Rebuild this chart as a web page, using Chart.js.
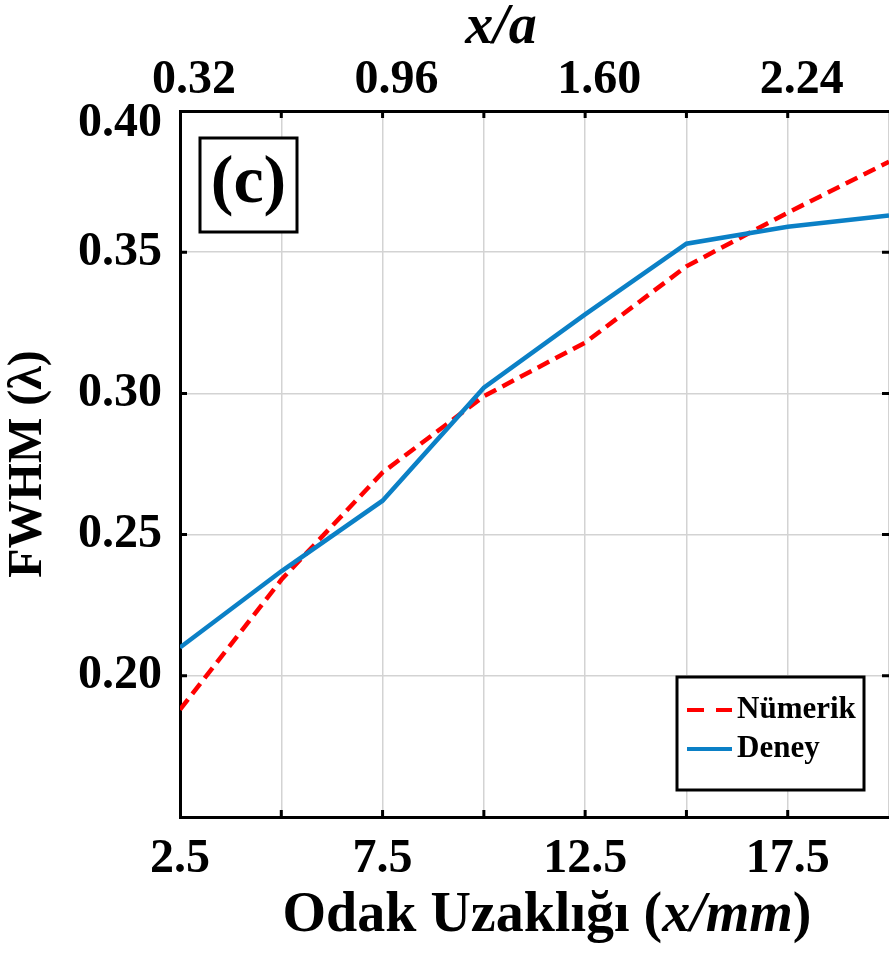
<!DOCTYPE html>
<html>
<head>
<meta charset="utf-8">
<script src="https://cdn.jsdelivr.net/npm/chart.js@4.4.0/dist/chart.umd.min.js"></script>
<style>
  html, body { margin: 0; padding: 0; background: #fff; overflow: hidden; }
  #wrap { width: 889px; height: 956px; }
  #fwhmChart { display: block; }
</style>
</head>
<body>
<div id="wrap"><canvas id="fwhmChart" width="889" height="956"></canvas></div>
<script>
// focal distance (mm) and measured / simulated FWHM (in wavelengths)
const focalDistance = [2.5, 5, 7.5, 10, 12.5, 15, 17.5, 20];
const numerik = [0.188, 0.234, 0.272, 0.299, 0.318, 0.345, 0.364, 0.382];
const deney = [0.210, 0.237, 0.262, 0.302, 0.328, 0.353, 0.359, 0.363];

// tick labels
const bottomTickValues = [2.5, 7.5, 12.5, 17.5];
const bottomTickLabels = ['2.5', '7.5', '12.5', '17.5'];
const topTickLabels = ['0.32', '0.96', '1.60', '2.24']; // x/a at the same ticks
const yTickValues = [0.20, 0.25, 0.30, 0.35];
const yTickLabels = ['0.20', '0.25', '0.30', '0.35'];
const yTopLabel = '0.40';

const serif = "'Liberation Serif', 'Times New Roman', serif";
const gridColor = '#d3d3d3';

function labelFor(value, values, labels) {
    const i = values.findIndex(v => Math.abs(v - value) < 1e-6);
    return i >= 0 ? labels[i] : '';
}

// draws a string made of upright / italic pieces, centred on cx
function drawRuns(ctx, runs, size, cx, cy) {
    let total = 0;
    runs.forEach(r => {
        ctx.font = (r.italic ? 'italic ' : '') + 'bold ' + size + 'px ' + serif;
        r.w = ctx.measureText(r.text).width;
        total += r.w;
    });
    let x = cx - total / 2;
    ctx.textAlign = 'left';
    ctx.textBaseline = 'middle';
    runs.forEach(r => {
        ctx.font = (r.italic ? 'italic ' : '') + 'bold ' + size + 'px ' + serif;
        ctx.fillText(r.text, x, cy);
        x += r.w;
    });
}

const extras = {
    id: 'extras',
    afterDatasetsDraw(chart) {
        const ctx = chart.ctx;
        const area = chart.chartArea;
        const xs = chart.scales.x, ys = chart.scales.y;
        ctx.save();

        // inward tick marks like the original figure
        ctx.strokeStyle = '#000';
        ctx.lineWidth = 3;
        const len = 7;
        xs.ticks.forEach(t => {
            const px = xs.getPixelForValue(t.value);
            if (px <= area.left + 2 || px >= area.right - 2) return;
            ctx.beginPath();
            ctx.moveTo(px, area.bottom); ctx.lineTo(px, area.bottom - len);
            ctx.moveTo(px, area.top); ctx.lineTo(px, area.top + len);
            ctx.stroke();
        });
        ys.ticks.forEach(t => {
            const py = ys.getPixelForValue(t.value);
            if (py <= area.top + 2 || py >= area.bottom - 2) return;
            ctx.beginPath();
            ctx.moveTo(area.left, py); ctx.lineTo(area.left + len, py);
            ctx.moveTo(area.right, py); ctx.lineTo(area.right - len, py);
            ctx.stroke();
        });

        // top y label sits a little lower in the original
        ctx.fillStyle = '#000';
        ctx.font = 'bold 48px ' + serif;
        ctx.textAlign = 'right';
        ctx.textBaseline = 'middle';
        ctx.fillText(yTopLabel, area.left - 18, ys.getPixelForValue(0.40) + 13);

        // panel tag (c)
        const bx = area.left + 20, by = area.top + 27;
        ctx.fillStyle = '#fff';
        ctx.fillRect(bx, by, 97, 94);
        ctx.strokeRect(bx, by, 97, 94);
        ctx.fillStyle = '#000';
        ctx.font = 'bold 68px ' + serif;
        ctx.textAlign = 'center';
        ctx.fillText('(c)', bx + 48.5, by + 46);

        // legend box
        const lw = 187, lh = 113;
        const lx = area.right - 25 - lw, ly = area.bottom - 27 - lh;
        ctx.fillStyle = '#fff';
        ctx.fillRect(lx, ly, lw, lh);
        ctx.strokeRect(lx, ly, lw, lh);
        chart.data.datasets.forEach((ds, i) => {
            const yy = ly + 33 + i * 39;
            ctx.save();
            ctx.strokeStyle = ds.borderColor;
            ctx.lineWidth = 4;
            ctx.setLineDash(ds.borderDash && ds.borderDash.length ? [17, 12] : []);
            ctx.beginPath();
            ctx.moveTo(lx + 10, yy); ctx.lineTo(lx + 55, yy);
            ctx.stroke();
            ctx.restore();
            ctx.fillStyle = '#000';
            ctx.font = 'bold 31px ' + serif;
            ctx.textAlign = 'left';
            ctx.textBaseline = 'middle';
            ctx.fillText(ds.label, lx + 60, yy);
        });

        // axis titles with italic parts
        ctx.fillStyle = '#000';
        drawRuns(ctx, [{ text: 'x/a', italic: true }], 56, 501, 29);
        drawRuns(ctx, [
            { text: 'Odak Uzaklığı (', italic: false },
            { text: 'x/mm', italic: true },
            { text: ')', italic: false }
        ], 56, 547, 917);

        ctx.restore();
    }
};

const ctx = document.getElementById('fwhmChart').getContext('2d');
const tickFont = { family: serif, size: 48, weight: 'bold', lineHeight: 1 };

// keep the plot box flush with the right edge of the canvas
function fitX(height) {
    return s => {
        s.height = height;
        s.paddingLeft = 0;
        s.paddingRight = 0;
    };
}

new Chart(ctx, {
    type: 'line',
    data: {
        datasets: [{
            label: 'Nümerik',
            data: focalDistance.map((x, i) => ({ x: x, y: numerik[i] })),
            borderColor: '#ff0000',
            borderWidth: 4.5,
            borderDash: [13, 7],
            pointRadius: 0,
            tension: 0,
            order: 1
        }, {
            label: 'Deney',
            data: focalDistance.map((x, i) => ({ x: x, y: deney[i] })),
            borderColor: '#0b80c6',
            borderWidth: 4.5,
            pointRadius: 0,
            tension: 0,
            order: 0
        }]
    },
    options: {
        responsive: false,
        animation: false,
        layout: { padding: 0 },
        plugins: {
            legend: { display: false },
            tooltip: { enabled: false }
        },
        scales: {
            x: {
                type: 'linear',
                position: 'bottom',
                min: 2.5,
                max: 20,
                afterFit: fitX(139),
                grid: { color: gridColor, lineWidth: 1.5, drawTicks: false },
                border: { display: true, color: '#000', width: 3 },
                ticks: {
                    stepSize: 2.5,
                    autoSkip: false,
                    maxRotation: 0,
                    padding: 19,
                    color: '#000',
                    font: tickFont,
                    callback: v => labelFor(v, bottomTickValues, bottomTickLabels)
                }
            },
            x2: {
                type: 'linear',
                position: 'top',
                min: 2.5,
                max: 20,
                afterFit: fitX(111),
                grid: { display: false, drawTicks: false },
                border: { display: true, color: '#000', width: 3 },
                ticks: {
                    stepSize: 2.5,
                    autoSkip: false,
                    maxRotation: 0,
                    padding: 6,
                    labelOffset: 14,
                    color: '#000',
                    font: tickFont,
                    callback: v => labelFor(v, bottomTickValues, topTickLabels)
                }
            },
            y: {
                min: 0.15,
                max: 0.40,
                afterFit: s => { s.width = 180; s.paddingTop = 0; s.paddingBottom = 0; },
                grid: { color: gridColor, lineWidth: 1.5, drawTicks: false },
                border: { display: true, color: '#000', width: 3 },
                ticks: {
                    stepSize: 0.05,
                    autoSkip: false,
                    padding: 18,
                    color: '#000',
                    font: tickFont,
                    callback: v => labelFor(v, yTickValues, yTickLabels)
                },
                title: {
                    display: true,
                    text: 'FWHM (λ)',
                    color: '#000',
                    font: { family: serif, size: 48, weight: 'bold', lineHeight: 1 },
                    padding: { top: 5, bottom: 0 }
                }
            }
        }
    },
    plugins: [extras]
});
</script>
</body>
</html>
